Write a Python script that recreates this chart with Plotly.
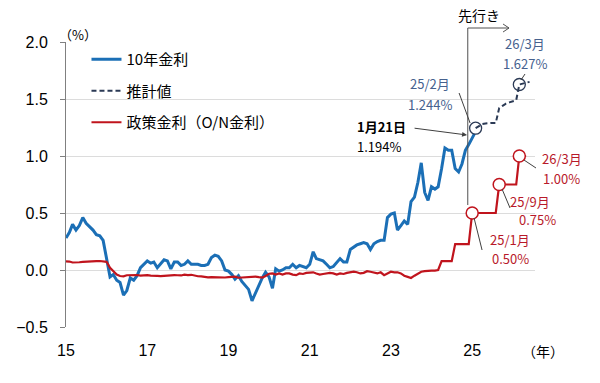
import pandas as pd
import plotly.graph_objects as go

# ---------------- data ----------------
months_actual = pd.date_range("2015-01-01", "2024-12-01", freq="MS")
jgb10_actual = [
    0.28, 0.33, 0.40, 0.35, 0.39, 0.46, 0.41, 0.38, 0.35, 0.31, 0.30, 0.26,
    0.10, -0.06, -0.04, -0.09, -0.11, -0.22, -0.18, -0.07, -0.09, -0.05, 0.02, 0.05,
    0.08, 0.06, 0.07, 0.02, 0.05, 0.09, 0.08, 0.01, 0.07, 0.07, 0.04, 0.05,
    0.08, 0.05, 0.05, 0.05, 0.04, 0.04, 0.05, 0.11, 0.13, 0.12, 0.08, 0.00,
    -0.01, -0.04, -0.08, -0.05, -0.10, -0.14, -0.17, -0.27, -0.20, -0.13, -0.07, -0.02,
    -0.06, -0.16, 0.01, -0.01, 0.00, 0.02, 0.02, 0.05, 0.02, 0.04, 0.03, 0.02,
    0.05, 0.16, 0.10, 0.09, 0.08, 0.05, 0.02, 0.03, 0.07, 0.10, 0.07, 0.07,
    0.18, 0.20, 0.22, 0.23, 0.24, 0.23, 0.18, 0.23, 0.25, 0.26, 0.26, 0.46,
    0.49, 0.50, 0.35, 0.39, 0.43, 0.40, 0.60, 0.64, 0.77, 0.94, 0.68, 0.61,
    0.73, 0.71, 0.73, 0.89, 1.07, 1.05, 1.05, 0.89, 0.86, 0.93, 1.05, 1.10,
]
latest_date = "2025-01-21"
latest_value = 1.194

months_forecast = pd.date_range("2025-02-01", "2026-06-01", freq="MS")
jgb10_forecast = [1.244, 1.26, 1.28, 1.285, 1.29, 1.29, 1.29, 1.42, 1.44,
                  1.46, 1.47, 1.48, 1.49, 1.627, 1.635, 1.645, 1.65]

months_policy = pd.date_range("2015-01-01", "2026-05-01", freq="MS")
policy_rate = [
    0.075, 0.074, 0.066, 0.064, 0.068, 0.072, 0.075, 0.076, 0.076, 0.078, 0.079, 0.077,
    0.072, 0.020, -0.008, -0.040, -0.053, -0.055, -0.046, -0.045, -0.047, -0.044, -0.050, -0.046,
    -0.045, -0.049, -0.048, -0.052, -0.053, -0.050, -0.047, -0.046, -0.045, -0.046, -0.048, -0.041,
    -0.045, -0.042, -0.050, -0.055, -0.056, -0.063, -0.065, -0.062, -0.064, -0.060, -0.062, -0.066,
    -0.062, -0.060, -0.058, -0.068, -0.066, -0.065, -0.057, -0.055, -0.058, -0.063, -0.066, -0.052,
    -0.033, -0.030, -0.040, -0.030, -0.040, -0.030, -0.030, -0.040, -0.045, -0.030, -0.035, -0.025,
    -0.025, -0.020, -0.030, -0.040, -0.035, -0.030, -0.025, -0.030, -0.040, -0.030, -0.035, -0.025,
    -0.020, -0.015, -0.020, -0.030, -0.025, -0.010, -0.015, -0.020, -0.030, -0.020, -0.045, -0.030,
    -0.015, -0.020, -0.020, -0.030, -0.050, -0.060, -0.070, -0.050, -0.030, -0.015, -0.010, -0.005,
    -0.005, -0.005, 0.000, 0.077, 0.077, 0.077, 0.077, 0.227, 0.227, 0.227, 0.227, 0.227,
    0.50, 0.50, 0.50, 0.50, 0.50, 0.50, 0.50, 0.50,
    0.75, 0.75, 0.75, 0.75, 0.75, 0.75,
    1.00, 1.00, 1.00,
]

x_tick_vals = ["2015-01-01", "2017-01-01", "2019-01-01", "2021-01-01", "2023-01-01", "2025-01-01"]
x_tick_text = ["15", "17", "19", "21", "23", "25"]

jgb_marked_months = ["2025-02-01", "2026-03-01"]
policy_marked_months = ["2025-01-01", "2025-09-01", "2026-03-01"]

# ---------------- styling ----------------
BLUE = "#1b6fb6"
NAVY = "#2b3a55"
RED = "#c0141d"
BLUE_TXT = "#46618e"
RED_TXT = "#b8192a"
JP = "Noto Sans CJK JP"
NUM = "Liberation Sans"

X_RANGE = ["2015-01-01", "2026-07-20"]

fig = go.Figure()
fig.add_trace(go.Scatter(x=list(months_actual) + [pd.Timestamp(latest_date)],
                         y=jgb10_actual + [latest_value], mode="lines",
                         line=dict(color=BLUE, width=3), name="10年金利",
                         legendgroup="a"))
fig.add_trace(go.Scatter(x=months_forecast, y=jgb10_forecast, mode="lines",
                         line=dict(color=NAVY, width=2, dash="5px,3px"),
                         name="推計値", legendgroup="b"))
fig.add_trace(go.Scatter(x=months_policy, y=policy_rate, mode="lines",
                         line=dict(color=RED, width=2.2), name="政策金利（O/N金利）",
                         legendgroup="c"))

fc = dict(zip([d.strftime("%Y-%m-%d") for d in months_forecast], jgb10_forecast))
pc = dict(zip([d.strftime("%Y-%m-%d") for d in months_policy], policy_rate))
fig.add_trace(go.Scatter(x=jgb_marked_months, y=[fc[m] for m in jgb_marked_months],
                         mode="markers", showlegend=False,
                         marker=dict(size=12, color="rgba(255,255,255,0)",
                                     line=dict(color=NAVY, width=1.3))))
fig.add_trace(go.Scatter(x=policy_marked_months, y=[pc[m] for m in policy_marked_months],
                         mode="markers", showlegend=False,
                         marker=dict(size=12, color="white",
                                     line=dict(color=RED, width=1.5))))

# plot area in pixels
L, R, T, B = 65.5, 535.0, 42.0, 327.0
W, H = R - L, B - T


def px(xp):
    return (xp - L) / W


def py(yp):
    return (B - yp) / H


shapes = []
annotations = []


def seg(x0, y0, x1, y1, color="#404040", width=1):
    shapes.append(dict(type="line", xref="paper", yref="paper",
                       x0=px(x0), y0=py(y0), x1=px(x1), y1=py(y1),
                       line=dict(color=color, width=width)))


def text(t, x, y, color="black", size=13, bold=False, xanchor="center"):
    annotations.append(dict(text=("<b>%s</b>" % t) if bold else t, x=px(x), y=py(y),
                            xref="paper", yref="paper", showarrow=False,
                            xanchor=xanchor, yanchor="middle",
                            font=dict(family=JP, size=size, color=color)))


# axis captions
text("（%）", 56, 35, size=13, xanchor="left")
text("（年）", 543, 351, size=14)

# forecast bracket
seg(467.7, 205, 467.7, 28, color="#505050")
seg(467.7, 28, 509, 28, color="#505050")
seg(509, 28, 503, 24, color="#505050")
seg(509, 28, 503, 32, color="#505050")
text("先行き", 479, 15, size=14)

# latest actual
text("1月21日", 381, 126, size=13, bold=True)
text("1.194%", 379, 146, size=13)
annotations.append(dict(x=px(467), y=py(135), xref="paper", yref="paper", text="",
                        showarrow=True, ax=-54, ay=-7, arrowhead=2, arrowsize=1,
                        arrowwidth=1, arrowcolor="#404040"))

# forecast labels
text("25/2月", 430, 83, color=BLUE_TXT)
text("1.244%", 430, 104, color=BLUE_TXT)
seg(459, 93, 470, 123)
text("26/3月", 525, 43, color=BLUE_TXT)
text("1.627%", 525, 63, color=BLUE_TXT)
seg(525, 74, 521, 80)

text("26/3月", 562, 158, color=RED_TXT)
text("1.00%", 562, 178, color=RED_TXT)
seg(524, 160, 536, 168)
text("25/9月", 530, 201, color=RED_TXT)
text("0.75%", 538, 220, color=RED_TXT)
seg(502, 189, 510, 208)
text("25/1月", 510, 240, color=RED_TXT)
text("0.50%", 510, 258, color=RED_TXT)
seg(474, 218, 482, 250)

fig.update_layout(
    width=600, height=383,
    margin=dict(l=L, r=600 - R, t=T, b=383 - B, autoexpand=False),
    paper_bgcolor="white", plot_bgcolor="white",
    showlegend=True,
    legend=dict(x=px(86), y=py(43), xanchor="left", yanchor="top",
                bgcolor="rgba(255,255,255,0)", tracegroupgap=9,
                font=dict(family=JP, size=15, color="black")),
    xaxis=dict(type="date", range=X_RANGE, tickvals=x_tick_vals, ticktext=x_tick_text,
               showgrid=False, zeroline=False, showline=False, ticks="",
               ticklabelstandoff=12,
               tickfont=dict(family=NUM, size=16, color="black")),
    xaxis2=dict(type="date", range=X_RANGE, overlaying="x", anchor="free",
                position=0.2, tickvals=x_tick_vals, showticklabels=False,
                showgrid=False, zeroline=False, showline=True, linecolor="#808080",
                linewidth=1.2, ticks="outside", ticklen=5, tickcolor="#808080",
                side="bottom"),
    yaxis=dict(range=[-0.5, 2.0], dtick=0.5, tick0=0, tickformat=".1f",
               showgrid=True, gridcolor="#dcdcdc", gridwidth=1,
               zeroline=False, showline=True, linecolor="#808080", linewidth=1,
               ticks="outside", ticklen=5, tickcolor="#808080",
               ticklabelstandoff=9,
               tickfont=dict(family=NUM, size=16, color="black")),
    shapes=shapes,
    annotations=annotations,
)

fig.write_html("out.html", config={"displayModeBar": False},
               post_script="document.body.style.margin='0';")
